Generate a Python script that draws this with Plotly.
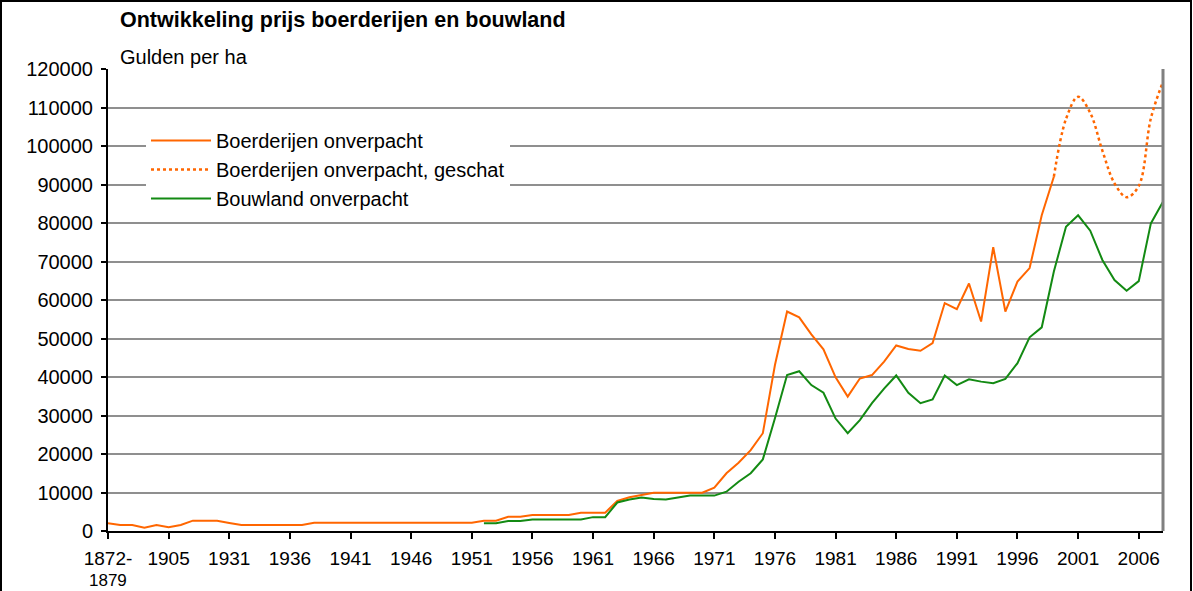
import plotly.graph_objects as go

# ---- data ----
categories = ["1872-1879", "1880-1889", "1890-1899", "1900-1904", "1900s", "1905",
              "1906-1910", "1911-1920", "1921-1925", "1926-1930"] + [str(y) for y in range(1931, 2009)]

boerderijen = [2000, 1560, 1560, 870, 1560, 950, 1560, 2680, 2680, 2680,
               2100, 1560, 1560, 1560, 1560, 1560, 1560,
               2160, 2160, 2160, 2160, 2160, 2160, 2160, 2160, 2160, 2160, 2160, 2160, 2160, 2160,
               2680, 2680, 3720, 3720, 4160, 4160, 4160, 4160, 4760, 4760, 4760,
               7800, 8750, 9350, 9950, 9950, 9950, 9950, 9950, 11250, 15000, 17750, 21000, 25400,
               43100, 57000, 55500, 51100, 47200, 39900, 34900, 39600, 40500, 44000, 48200,
               47300, 46800, 48800, 59200, 57600, 64300, 54400, 73700, 57000, 64800, 68300,
               82000, 92000,
               None, None, None, None, None, None, None, None, None]

geschat = [None] * 78 + [92000, 107000, 112800, 108600, 98800, 90300, 86700, 89600, 107200, 116700]

bouwland = [None] * 31 + [2000, 2000, 2600, 2600, 3000, 3000, 3000, 3000, 3000, 3600, 3600,
                          7400, 8200, 8700, 8300, 8200, 8700, 9200, 9200, 9200, 10200, 12800, 15000,
                          18600, 29300, 40500, 41500, 37900, 35900, 29200, 25400, 28800, 33200, 37000,
                          40400, 35900, 33200, 34200, 40400, 37900, 39400, 38800, 38400, 39500, 43600,
                          50300, 52900, 67400, 79000, 82000, 78000, 70400, 65200, 62400, 64900, 79900,
                          85500]

# first tick label is split over two lines ("1872-" / "1879")
tick_labels = ["1872-", "1905", "1931", "1936", "1941", "1946", "1951", "1956", "1961",
               "1966", "1971", "1976", "1981", "1986", "1991", "1996", "2001", "2006"]
first_tick_second_line = "1879"
y_ticks = list(range(0, 120001, 10000))

title_text = "Ontwikkeling prijs boerderijen en bouwland"
unit_text = "Gulden per ha"

ORANGE = "#ff6600"
GREEN = "#138a13"
FONT = "Liberation Sans, Arial, sans-serif"

idx = list(range(len(categories)))

fig = go.Figure()
fig.add_trace(go.Scatter(x=idx, y=boerderijen, mode="lines", name="Boerderijen onverpacht",
                         line=dict(color=ORANGE, width=2), legendgroup="a",
                         connectgaps=False))
fig.add_trace(go.Scatter(x=idx, y=geschat, mode="lines", name="Boerderijen onverpacht, geschat",
                         line=dict(color=ORANGE, width=2.5, dash="dot", shape="spline", smoothing=1.0),
                         legendgroup="b"))
fig.add_trace(go.Scatter(x=idx, y=bouwland, mode="lines", name="Bouwland onverpacht",
                         line=dict(color=GREEN, width=2), legendgroup="c"))

L, R, T, B = 108, 30, 69, 60
W, H = 1193, 591
pw, ph = W - L - R, H - T - B

fig.update_layout(
    width=W, height=H,
    margin=dict(l=L, r=R, t=T, b=B, autoexpand=False),
    paper_bgcolor="white", plot_bgcolor="white",
    font=dict(family=FONT, size=20, color="black"),
    showlegend=True,
    legend=dict(x=(146 - L) / pw, y=(531 - 121) / ph, xanchor="left", yanchor="top",
                bgcolor="white", font=dict(size=20), tracegroupgap=0,
                itemwidth=60),
    xaxis=dict(range=[0, len(categories) - 1], tickmode="array", automargin=False,
               tickvals=idx[::5], ticktext=tick_labels,
               showgrid=False, zeroline=False, showline=True, linecolor="black", linewidth=2,
               ticks="outside", ticklen=6, tickwidth=2, tickcolor="black",
               ticklabelstandoff=3, tickfont=dict(size=19)),
    yaxis=dict(range=[0, 120000], tickmode="array", tickvals=y_ticks, automargin=False,
               ticktext=[str(v) for v in y_ticks],
               showgrid=True, gridcolor="#8f8f8f", gridwidth=2,
               zeroline=False, showline=True, linecolor="black", linewidth=2,
               ticks="outside", ticklen=5, tickwidth=2, tickcolor="black",
               ticklabelstandoff=4, tickfont=dict(size=20)),
    annotations=[
        dict(text="<b>" + title_text + "</b>", xref="paper", yref="paper",
             x=(118 - L) / pw, y=(531 - 20) / ph, xanchor="left", yanchor="middle",
             showarrow=False, font=dict(size=21.5, family=FONT)),
        dict(text=unit_text, xref="paper", yref="paper",
             x=(118 - L) / pw, y=(531 - 57) / ph, xanchor="left", yanchor="middle",
             showarrow=False, font=dict(size=20, family=FONT)),
        dict(text=first_tick_second_line, xref="x", yref="paper",
             x=idx[0], y=(531 - 580) / ph, xanchor="center", yanchor="middle",
             showarrow=False, font=dict(size=17, family=FONT), borderpad=0),
    ],
    shapes=[
        # right edge of plot area
        dict(type="line", xref="paper", yref="paper", x0=1, x1=1, y0=0, y1=1,
             line=dict(color="#808080", width=3)),
        # outer frame
        dict(type="rect", xref="paper", yref="paper",
             x0=(1 - L) / pw, x1=(W - 2 - L) / pw, y0=(531 - (H + 5)) / ph, y1=(531 - 1) / ph,
             line=dict(color="black", width=2), fillcolor="rgba(0,0,0,0)", layer="above"),
    ],
)

fig.write_html("out.html", config={"displayModeBar": False},
               post_script="document.body.style.margin='0px';document.body.style.overflow='hidden';")
